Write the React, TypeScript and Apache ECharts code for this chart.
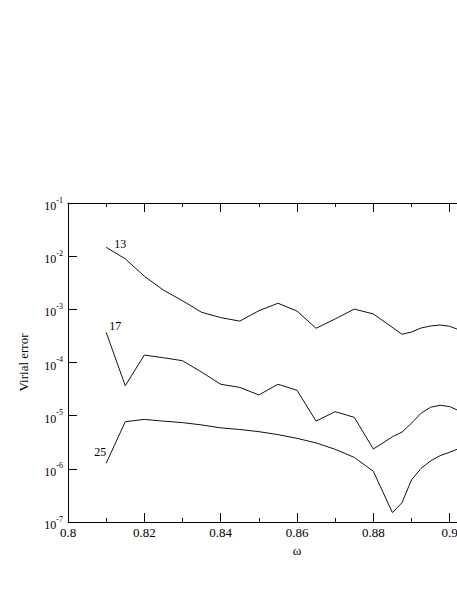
import React, { useEffect, useRef } from "react";
import * as echarts from "echarts";

const x13 = [0.81, 0.815, 0.82, 0.825, 0.83, 0.835, 0.84, 0.845, 0.85, 0.855, 0.86, 0.865, 0.87, 0.875, 0.88, 0.8875, 0.89, 0.8925, 0.895, 0.8975, 0.9, 0.9025];
const y13 = [1.47e-2, 8.9e-3, 4.2e-3, 2.3e-3, 1.45e-3, 8.8e-4, 7.0e-4, 6.0e-4, 9.4e-4, 1.3e-3, 9.3e-4, 4.4e-4, 6.6e-4, 1.01e-3, 8.2e-4, 3.4e-4, 3.75e-4, 4.45e-4, 4.87e-4, 5.07e-4, 4.8e-4, 4.1e-4];

const x17 = [0.81, 0.815, 0.82, 0.825, 0.83, 0.835, 0.84, 0.845, 0.85, 0.855, 0.86, 0.865, 0.87, 0.875, 0.88, 0.885, 0.8875, 0.89, 0.8925, 0.895, 0.8975, 0.9, 0.9025];
const y17 = [3.7e-4, 3.66e-5, 1.38e-4, 1.23e-4, 1.08e-4, 6.6e-5, 3.9e-5, 3.4e-5, 2.45e-5, 3.9e-5, 3.0e-5, 7.9e-6, 1.19e-5, 9.3e-6, 2.36e-6, 4.0e-6, 4.9e-6, 7.2e-6, 1.11e-5, 1.44e-5, 1.57e-5, 1.48e-5, 1.23e-5];

const x25 = [0.81, 0.815, 0.82, 0.825, 0.83, 0.835, 0.84, 0.845, 0.85, 0.855, 0.86, 0.865, 0.87, 0.875, 0.88, 0.885, 0.8875, 0.89, 0.8925, 0.895, 0.8975, 0.9, 0.9025];
const y25 = [1.27e-6, 7.7e-6, 8.5e-6, 7.9e-6, 7.4e-6, 6.7e-6, 5.9e-6, 5.5e-6, 5.0e-6, 4.4e-6, 3.75e-6, 3.07e-6, 2.33e-6, 1.64e-6, 9.0e-7, 1.5e-7, 2.3e-7, 6.2e-7, 1.02e-6, 1.41e-6, 1.77e-6, 2.05e-6, 2.42e-6];

const seriesNames = ["13", "17", "25"];
const labelOffsets: [number, number][] = [[14, -3], [9, -6], [-6, -11]];

const FONT = "'Liberation Serif', 'Times New Roman', Times, serif";

export default function App() {
  const ref = useRef<HTMLDivElement>(null);
  useEffect(() => {
    if (!ref.current) return;
    const chart = echarts.init(ref.current, undefined, { renderer: "svg" });
    const xs = [x13, x17, x25];
    const ys = [y13, y17, y25];
    const series = seriesNames.map((name, i) => ({
      name,
      type: "line",
      xAxisIndex: 0,
      yAxisIndex: 0,
      showSymbol: false,
      symbol: "none",
      clip: true,
      lineStyle: { color: "#111", width: 1 },
      data: xs[i].map((x, j) => [x, ys[i][j]]),
      markPoint: {
        symbol: "circle",
        symbolSize: 0,
        itemStyle: { color: "transparent" },
        label: {
          show: true,
          formatter: name,
          color: "#000",
          fontFamily: FONT,
          fontSize: 12,
          offset: labelOffsets[i],
        },
        data: [{ coord: [xs[i][0], ys[i][0]] }],
      },
    }));
    const xLabelFmt = (v: number) => {
      const r = Math.round(v * 100) / 100;
      return String(r);
    };
    chart.setOption({
      animation: false,
      backgroundColor: "#fff",
      grid: { left: 68, right: 0, top: 203, bottom: 69 },
      xAxis: [
        {
          type: "value",
          position: "bottom",
          min: 0.8,
          max: 0.92,
          interval: 0.02,
          name: "ω",
          nameLocation: "middle",
          nameGap: 20,
          nameTextStyle: { fontFamily: FONT, fontSize: 13, color: "#000" },
          axisLine: { show: true, lineStyle: { color: "#000", width: 1 } },
          axisTick: { show: true, inside: true, length: 9, lineStyle: { color: "#000" } },
          minorTick: { show: true, splitNumber: 2, length: 4, lineStyle: { color: "#000" } },
          splitLine: { show: false },
          axisLabel: {
            show: true,
            formatter: xLabelFmt,
            fontFamily: FONT,
            fontSize: 13,
            color: "#000",
            margin: 4,
            showMaxLabel: false,
          },
        },
        {
          type: "value",
          position: "top",
          min: 0.8,
          max: 0.92,
          interval: 0.02,
          axisLine: { show: true, lineStyle: { color: "#000", width: 1 } },
          axisTick: { show: true, inside: true, length: 9, lineStyle: { color: "#000" } },
          minorTick: { show: true, splitNumber: 2, length: 4, lineStyle: { color: "#000" } },
          splitLine: { show: false },
          axisLabel: { show: false },
        },
      ],
      yAxis: [
        {
          type: "log",
          logBase: 10,
          min: 1e-7,
          max: 1e-1,
          name: "Virial error",
          nameLocation: "middle",
          nameGap: 38,
          nameRotate: 90,
          nameTextStyle: { fontFamily: FONT, fontSize: 13, color: "#000" },
          axisLine: { show: true, onZero: false, lineStyle: { color: "#000", width: 1 } },
          axisTick: { show: true, inside: true, length: 9, lineStyle: { color: "#000" } },
          minorTick: { show: false },
          splitLine: { show: false },
          axisLabel: {
            show: true,
            margin: 5,
            formatter: (v: number) => `{b|10}{s|${Math.round(Math.log10(v))}}`,
            rich: {
              b: { fontFamily: FONT, fontSize: 12, color: "#000", lineHeight: 18, verticalAlign: "bottom" },
              s: { fontFamily: FONT, fontSize: 8, color: "#000", lineHeight: 18, verticalAlign: "top", padding: [2, 0, 0, 0] },
            },
          },
        },
      ],
      series,
    });
    return () => chart.dispose();
  }, []);
  return (
    <div style={{ position: "absolute", left: 0, top: 0, width: 457, height: 591, overflow: "hidden", background: "#fff" }}>
      <div ref={ref} style={{ width: 526, height: 591 }} />
    </div>
  );
}
